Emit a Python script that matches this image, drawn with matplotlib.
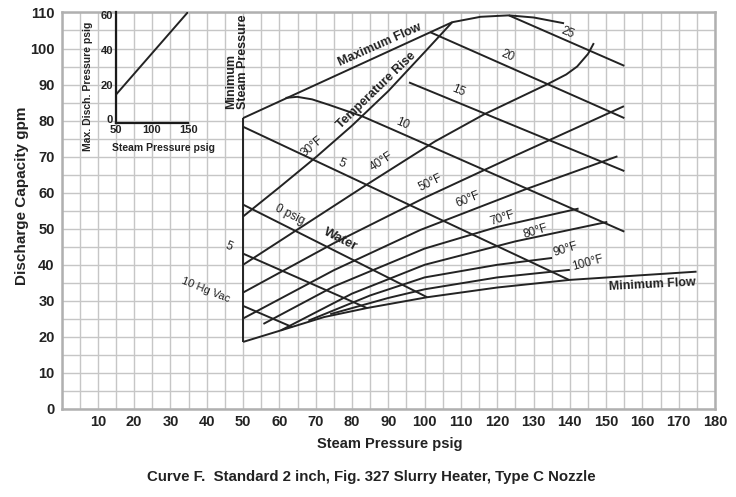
import matplotlib
matplotlib.use('Agg')
import matplotlib.pyplot as plt
from matplotlib.ticker import MultipleLocator

plt.rcParams['font.family'] = ['Liberation Sans', 'DejaVu Sans']

# ---------------- data ----------------
x_ticks = [10, 20, 30, 40, 50, 60, 70, 80, 90, 100, 110, 120, 130, 140, 150, 160, 170, 180]
y_ticks = [0, 10, 20, 30, 40, 50, 60, 70, 80, 90, 100, 110]

# boundaries
min_steam_x = [50, 50]
min_steam_y = [18.6, 80.7]
max_flow_x = [50, 107.6, 115.4, 123.2, 130.1, 138.4]
max_flow_y = [80.7, 107.3, 108.8, 109.2, 108.6, 107.0]
min_flow_x = [50, 60.4, 72.3, 84.1, 100.7, 120, 139.8, 155, 174.9]
min_flow_y = [18.6, 21.8, 25.5, 28.0, 31.0, 33.7, 35.8, 36.8, 38.1]

# suction pressure lines
p25_x = [123.2, 155];  p25_y = [109.2, 95.2]
p20_x = [101.6, 155];  p20_y = [104.5, 80.7]
p15_x = [95.7, 155];   p15_y = [90.6, 66.0]
p10_x = [61.7, 64.9, 69.0, 73.6, 82.8, 91.0, 155]
p10_y = [86.3, 86.6, 85.9, 84.4, 81.2, 77.6, 49.2]
p5_x = [50, 84, 139.8];  p5_y = [78.3, 62.2, 35.8]
p0_x = [50, 100.7];      p0_y = [56.7, 31.0]
p5v_x = [50, 84.1];      p5v_y = [43.1, 28.0]
p10v_x = [50, 63.6];     p10v_y = [28.6, 22.7]

# temperature rise lines
t30_x = [50, 60, 70, 80, 90, 100, 107.6]
t30_y = [53.4, 61.5, 69.8, 78.6, 88.2, 99.0, 107.3]
t40_x = [50, 84, 102.8, 116.3, 134.2, 139, 142, 145, 146.6]
t40_y = [40.0, 62.2, 74.2, 81.7, 90.3, 92.8, 95.0, 98.5, 101.5]
t50_x = [50, 75, 100, 125, 154.9]
t50_y = [32.3, 46.0, 58.6, 70.3, 84.0]
t60_x = [50, 75, 98.9, 127.4, 153.1]
t60_y = [25.1, 38.5, 49.7, 60.8, 70.1]
t70_x = [55.6, 75, 100, 120, 142.4]
t70_y = [23.6, 34.0, 44.5, 50.5, 55.6]
t80_x = [60.4, 80, 100, 125, 150.3]
t80_y = [21.8, 32.0, 40.0, 46.5, 51.9]
t90_x = [68, 85, 100, 120, 135.1]
t90_y = [24.5, 31.5, 36.5, 40.0, 41.9]
t100_x = [74, 90, 100, 120, 140]
t100_y = [26.3, 30.8, 33.2, 36.5, 38.6]

# inset
inset_x = [50, 150]
inset_y = [14, 62]
inset_xticks = [50, 100, 150]
inset_yticks = [0, 20, 40, 60]

# ---------------- figure ----------------
LC = '#232323'
TC = '#222222'
fig = plt.figure(figsize=(7.36, 4.97), dpi=100)
ax = fig.add_axes([0.0836, 0.1771, 0.888, 0.7978])
ax.set_xlim(0, 180)
ax.set_ylim(0, 110)
ax.set_xticks(x_ticks)
ax.set_xticklabels([str(v) for v in x_ticks])
ax.set_yticks(y_ticks)
ax.set_yticklabels([str(v) for v in y_ticks])
ax.xaxis.set_minor_locator(MultipleLocator(5))
ax.yaxis.set_minor_locator(MultipleLocator(5))
ax.grid(which='both', color='#c6c6c6', lw=1.0)
ax.set_axisbelow(True)
ax.tick_params(which='both', length=0)
ax.tick_params(axis='x', pad=4, labelsize=10.5, labelcolor=TC)
ax.tick_params(axis='y', pad=5, labelsize=10.5, labelcolor=TC)
for lab in ax.get_xticklabels() + ax.get_yticklabels():
    lab.set_fontweight('bold')
for s in ax.spines.values():
    s.set_color('#b0b0b0')
    s.set_linewidth(1.8)

lines = [
    (min_steam_x, min_steam_y), (max_flow_x, max_flow_y), (min_flow_x, min_flow_y),
    (p25_x, p25_y), (p20_x, p20_y), (p15_x, p15_y), (p10_x, p10_y), (p5_x, p5_y),
    (p0_x, p0_y), (p5v_x, p5v_y), (p10v_x, p10v_y),
    (t30_x, t30_y), (t40_x, t40_y), (t50_x, t50_y), (t60_x, t60_y), (t70_x, t70_y),
    (t80_x, t80_y), (t90_x, t90_y), (t100_x, t100_y),
]
for xs, ys in lines:
    ax.plot(xs, ys, color=LC, lw=1.4, solid_joinstyle='round', solid_capstyle='butt')

labels = [
    ('Maximum Flow', 87.6, 101.1, 24, 9, 'bold'),
    ('Temperature Rise', 86.7, 88.4, 44, 9, 'bold'),
    ('30°F', 69.1, 72.9, 40, 8.5, 'normal'),
    ('40°F', 88.3, 68.7, 33, 8.5, 'normal'),
    ('50°F', 101.7, 62.7, 26, 8.5, 'normal'),
    ('60°F', 111.8, 58.1, 22, 8.5, 'normal'),
    ('70°F', 121.4, 53.0, 18, 8.5, 'normal'),
    ('80°F', 130.6, 49.3, 17, 8.5, 'normal'),
    ('90°F', 138.8, 44.2, 17, 8.5, 'normal'),
    ('100°F', 144.8, 40.5, 15, 8.5, 'normal'),
    ('5', 77.3, 68.2, -23, 8.5, 'normal'),
    ('10', 93.9, 79.2, -23, 8.5, 'normal'),
    ('15', 109.4, 88.4, -23, 8.5, 'normal'),
    ('20', 122.8, 98.1, -23, 8.5, 'normal'),
    ('25', 139.5, 104.4, -23, 8.5, 'normal'),
    ('0 psig', 62.9, 53.9, -27, 8.5, 'normal'),
    ('Water', 76.9, 46.9, -27, 9.5, 'bold'),
    ('5', 46.1, 45.1, -23, 8.5, 'normal'),
    ('10 Hg Vac', 39.7, 33.1, -22, 8, 'normal'),
    ('Minimum Flow', 162.7, 34.4, 3, 9, 'bold'),
]
for t, x, y, r, fs, fw in labels:
    ax.text(x, y, t, rotation=r, fontsize=fs, fontweight=fw, color=TC,
            ha='center', va='center', rotation_mode='anchor')

ax.text(48.4, 83.1, 'Minimum\nSteam Pressure', rotation=90, fontsize=9, fontweight='bold',
        color=TC, ha='center', va='bottom', multialignment='left', linespacing=1.0)

fig.text(22 / 736, 1 - 196 / 497, 'Discharge Capacity gpm', rotation=90, fontsize=11,
         fontweight='bold', color=TC, ha='center', va='center')
fig.text(390 / 736, 1 - 444 / 497, 'Steam Pressure psig', fontsize=10.5,
         fontweight='bold', color=TC, ha='center', va='center')
fig.text(371 / 736, 1 - 477 / 497,
         'Curve F.  Standard 2 inch, Fig. 327 Slurry Heater, Type C Nozzle',
         fontsize=10.8, fontweight='bold', color=TC, ha='center', va='center')

# ---------------- inset ----------------
ins = fig.add_axes([0.1572, 0.7531, 0.0986, 0.2233])
ins.patch.set_alpha(0)
ins.set_xlim(50, 150)
ins.set_ylim(-2, 62)
ins.plot(inset_x, inset_y, color=LC, lw=1.4)
ins.set_xticks(inset_xticks)
ins.set_yticks(inset_yticks)
ins.tick_params(length=0, labelsize=8, labelcolor=TC, pad=2)
for lab in ins.get_xticklabels() + ins.get_yticklabels():
    lab.set_fontweight('bold')
for side in ['top', 'right']:
    ins.spines[side].set_visible(False)
for side in ['left', 'bottom']:
    ins.spines[side].set_color('#1a1a1a')
    ins.spines[side].set_linewidth(1.6)
fig.text(88 / 736, 1 - 86 / 497, 'Max. Disch. Pressure psig', rotation=90, fontsize=7.5,
         fontweight='bold', color=TC, ha='center', va='center')
fig.text(164 / 736, 1 - 148 / 497, 'Steam Pressure psig', fontsize=7.5,
         fontweight='bold', color=TC, ha='center', va='center')

fig.savefig('out.png', dpi=100)
